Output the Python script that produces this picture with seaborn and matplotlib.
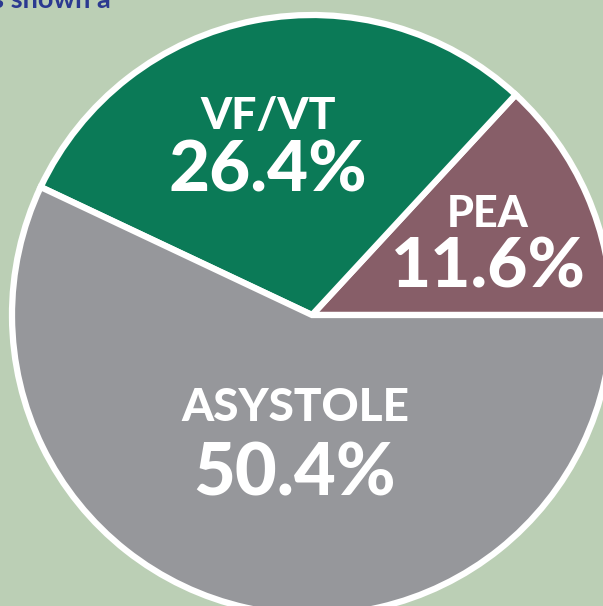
import matplotlib
matplotlib.use("Agg")
import matplotlib.pyplot as plt
import seaborn as sns

# rhythm shares as printed on the chart
labels = ["PEA", "VF/VT", "ASYSTOLE"]
values = [11.6, 26.4, 50.4]
colors = ["#875E68", "#0B7A57", "#96979B"]

sns.set_style("white")
plt.rcParams['font.family'] = ['Lato', 'DejaVu Sans']

fig = plt.figure(figsize=(6.03, 6.06), dpi=100)
fig.patch.set_facecolor("#BBCFB5")
ax = fig.add_axes([0, 0, 1, 1])
ax.set_facecolor("#BBCFB5")

ax.pie(values, colors=colors, startangle=0, counterclock=True,
       center=(312, 291), radius=300,
       wedgeprops=dict(edgecolor="white", linewidth=4.5))
ax.set_xlim(0, 603)
ax.set_ylim(0, 606)
ax.set_aspect("equal")
ax.axis("off")

# label layout: x, name y, percent y, name size, percent size
pos = {"PEA": (488, 392, 338, 31, 50),
       "VF/VT": (268, 490, 435, 32, 51),
       "ASYSTOLE": (295, 198, 131, 33, 52)}
for lab, v in zip(labels, values):
    x, y1, y2, s1, s2 = pos[lab]
    ax.text(x, y1, lab, color="white", fontsize=s1, fontweight="black",
            ha="center", va="center")
    ax.text(x, y2, f"{v}%", color="white", fontsize=s2, fontweight="black",
            ha="center", va="center")

fig.text(-0.014, 1 - 8 / 606, "s shown a", color="#2B3990", fontsize=19.5,
         fontweight="bold", ha="left", va="baseline")

fig.savefig("out.png", dpi=100, facecolor=fig.get_facecolor())
